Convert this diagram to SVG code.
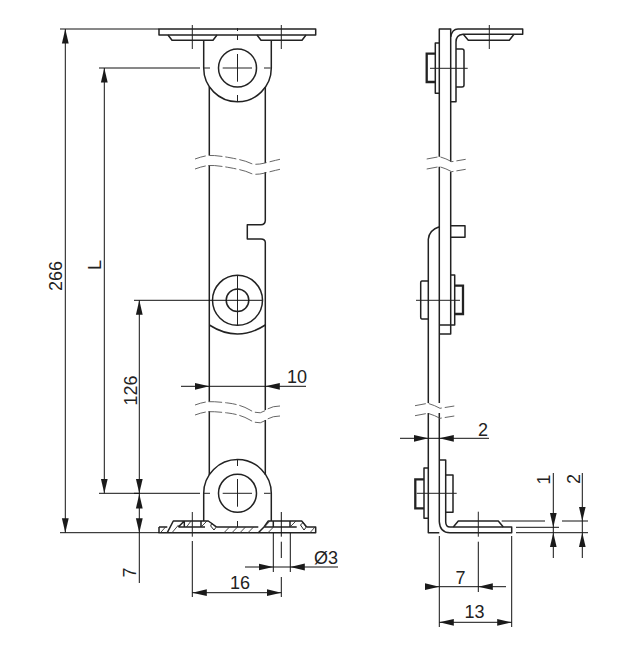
<svg xmlns="http://www.w3.org/2000/svg" width="639" height="647" viewBox="0 0 639 647">
<style>
.o{fill:none;stroke:#222;stroke-width:1.5;stroke-linejoin:round}
.b{fill:none;stroke:#222;stroke-width:2.3}
.t{fill:none;stroke:#222;stroke-width:1}
.h{fill:none;stroke:#333;stroke-width:.9}
.w{fill:none;stroke:#555;stroke-width:.9;stroke-dasharray:11 3 14 3}
.d{fill:none;stroke:#111;stroke-width:1}
.a{fill:none;stroke:#111;stroke-width:1;marker-end:url(#ar)}
text{font-family:"Liberation Sans",Arial,sans-serif;font-size:18px;fill:#222;text-anchor:middle}
</style>
<defs>
<marker id="ar" markerUnits="userSpaceOnUse" markerWidth="15" markerHeight="8" viewBox="0 0 15 8" refX="14.5" refY="4" orient="auto"><path d="M0 .6L14.5 4L0 7.4Z" fill="#1a1a1a"/></marker>
</defs>
<rect width="639" height="647" fill="#fff"/>
<g id="front-view">
<path class="o" d="M209.3 87V155M209.3 165V401.7M209.3 411V475M265.3 87V163M265.3 172V220.6Q265 224.7 261 224.7H247.3V239H261Q265 239 265.3 242.3V410M265.3 420V475"/>
<path class="o" d="M209.3 325Q237.5 343 265.3 325"/>
<path class="w" d="M195 159Q203 156 209 155.500T230 157.700T250 163T265 163T280 159.300M195 169Q203 166 209 165.500T230 167.700T250 173T265 173T280 169.300"/>
<path class="w" d="M195 405Q203 402 209 401.700T228 403T250 410T265 410.700T280 406M195 415Q203 412 209 411.700T228 413T250 420T265 420.700T280 416"/>
<rect class="o" x="159" y="29" width="156.700" height="6"/>
<path class="o" d="M168 35L172 40.300H213L217 35M257 35L261 40.300H302L306 35"/>
<path class="o" d="M203.700 40.300V68A33.800 33.800 0 0 0 271.300 68V40.300"/>
<circle class="o" cx="237.500" cy="68" r="19"/>
<circle class="o" cx="237.500" cy="300.300" r="25"/>
<circle class="o" cx="237.500" cy="300.300" r="11.300"/>
<path class="o" d="M203.700 521V493.300A33.800 33.800 0 0 1 271.300 493.300V521"/>
<circle class="o" cx="237.500" cy="493.300" r="19"/>
<path class="o" d="M159 527H167.300M306.700 527H315.700V532.700H159V527"/>
<path class="o" d="M167.300 532.700L173.300 521H208.300L216.700 527H258.300M178.300 527L184.300 521V527M201 521V527M178.300 527H205M258.300 532.700L264 527L268.300 521H301.700L306.700 527M264 527H296.700M273.300 521V527M290 521V527"/>
<path class="t" d="M211.700 523.300L216 527.300L214 530L210.700 526ZM300.500 525L303 522.500L306.300 527L304 530Z"/>
<path class="h" d="M160.500 532.700L165.500 527M172 532.700L178.500 525M186.500 527L191 521M201 527L207 521M224 532.700L229.500 527M232 532.700L237.500 527M240 532.700L245.500 527M248 532.700L253.500 527M268 532.700L273.500 527M264.500 527L270 521M290 527L296 521M310 532.700L315 527"/>
<path class="t" d="M237.500 28V31M237.500 35V40M237.500 54V81.700M237.500 95V101.700M204 68H210M222.700 68H252M264 68H270.700"/>
<path class="t" d="M237.500 275V325"/>
<path class="t" d="M237.500 460V466M237.500 479V506.700M237.500 521V527M204 493.300H210M222.700 493.300H252M264 493.300H270.700"/>
<path class="t" d="M192.300 25V49M281.300 25V49M192.300 512V536.700"/>
</g>
<g id="side-view">
<path class="o" d="M439.300 156.700V29H450.700V161.700M439.300 166.700V403M450.700 171.700V334H439.300M428.300 403V239.300Q429 230 439.300 226.700M428.300 413V532.700H439.300M439.300 335V403M439.300 413V521.700Q440 532.700 450 532.700H511.700V527H450Q445.700 527 445.700 521.700V460H439.300M439.300 325H454.700V275H450.700"/>
<path class="o" d="M450.700 37Q452 29 458 29H522.700V34.300H463Q456 35 456 42V101.700H450.700"/>
<path class="o" d="M463.300 34.300L468.300 40.300H509.300L514 34.300"/>
<path class="o" d="M439.300 93.300H435.300V43H439.300M456 49H462Q464 49 464 51V85Q464 87 462 87H456M450.700 225.700H465V237.300H450.700M428.300 281H422Q420.700 281 420.700 283V317Q420.700 319 422 319H428.300M428.300 518.300H424V468H428.300M445.700 475H453V512.300H445.700M453.300 527L458.300 521H498.300L503.300 527"/>
<path class="b" d="M435.300 53.700H426.700V82H435.300M454.700 285.700H463V314H454.700M424 479.300H415.300V508.300H424"/>
<path class="w" d="M426.700 159L439.300 156.700Q445 158 451.700 161.700L465.700 159.300M426.700 169L439.300 166.700Q445 168 451.700 171.700L465.700 169.300"/>
<path class="w" d="M415 405.700L427.700 403.300Q434 405 440 408.300L454.300 406M415 415.700L427.700 413.300Q434 415 440 418.300L454.300 416"/>
<path class="t" d="M489.300 25V49M430 68.300H467.700M416 300.300H460M416.700 493.300H456.700M478.300 511.700V536.700"/>
</g>
<g id="dimensions">
<path class="d" d="M60 29H159M60 532.700H159M99 68H200M99 493.300H200M134 300.300H262M134 493.300H140"/>
<path class="a" d="M65.300 280V29"/><path class="a" d="M65.300 280V532.700"/>
<path class="a" d="M104.300 280V68"/><path class="a" d="M104.300 280V493.300"/>
<path class="a" d="M139.300 400V300.300"/><path class="a" d="M139.300 400V493.300"/>
<path class="a" d="M139.300 515V494"/><path class="a" d="M139.300 515V532.700"/>
<path class="d" d="M139.300 532.700V583"/>
<path class="a" d="M181 386.300H209.300"/><path class="a" d="M306 386.300H265.300"/><path class="d" d="M209.300 386.300H265.300"/>
<path class="d" d="M273.300 533V572M290.300 533V572M192.300 541V597M281.300 512V536.700M281.300 541.700V558M281.300 577V597"/>
<path class="a" d="M245 567H273.300"/><path class="a" d="M338 567H290.300"/><path class="d" d="M273.300 567H290.300"/>
<path class="a" d="M237 592.700H192.300"/><path class="a" d="M237 592.700H281.300"/>
<path class="a" d="M400 438.300H428.300"/><path class="a" d="M489 438.300H439.300"/><path class="d" d="M428.300 438.300H439.300"/>
<path class="d" d="M439.300 536V627M478.300 541.700V592M511.700 536V627"/>
<path class="a" d="M425 586.700H439.300"/><path class="a" d="M506 586.700H478.300"/><path class="d" d="M439.300 586.700H478.300"/>
<path class="a" d="M475 622.300H439.300"/><path class="a" d="M475 622.300H511.700"/>
<path class="d" d="M501.700 521H545M562 521H588M516 527.300H559M516 532.700H588"/>
<path class="a" d="M553.300 473V527.300"/><path class="a" d="M553.300 558V532.700"/><path class="d" d="M553.300 527.300V532.700"/>
<path class="a" d="M582.300 473V521"/><path class="a" d="M582.300 558V532.700"/><path class="d" d="M582.300 521V532.700"/>
</g>
<g id="labels">
<text transform="translate(62 276) rotate(-90)">266</text>
<text transform="translate(101 265) rotate(-90)">L</text>
<text transform="translate(137 390.500) rotate(-90)">126</text>
<text transform="translate(136 572.500) rotate(-90)">7</text>
<text x="297" y="382.500">10</text>
<text x="240" y="589">16</text>
<text x="326" y="564">Ø3</text>
<text x="483" y="436">2</text>
<text x="460.500" y="584">7</text>
<text x="474.500" y="618">13</text>
<text transform="translate(550 479.500) rotate(-90)">1</text>
<text transform="translate(580 479) rotate(-90)">2</text>
</g>
</svg>
